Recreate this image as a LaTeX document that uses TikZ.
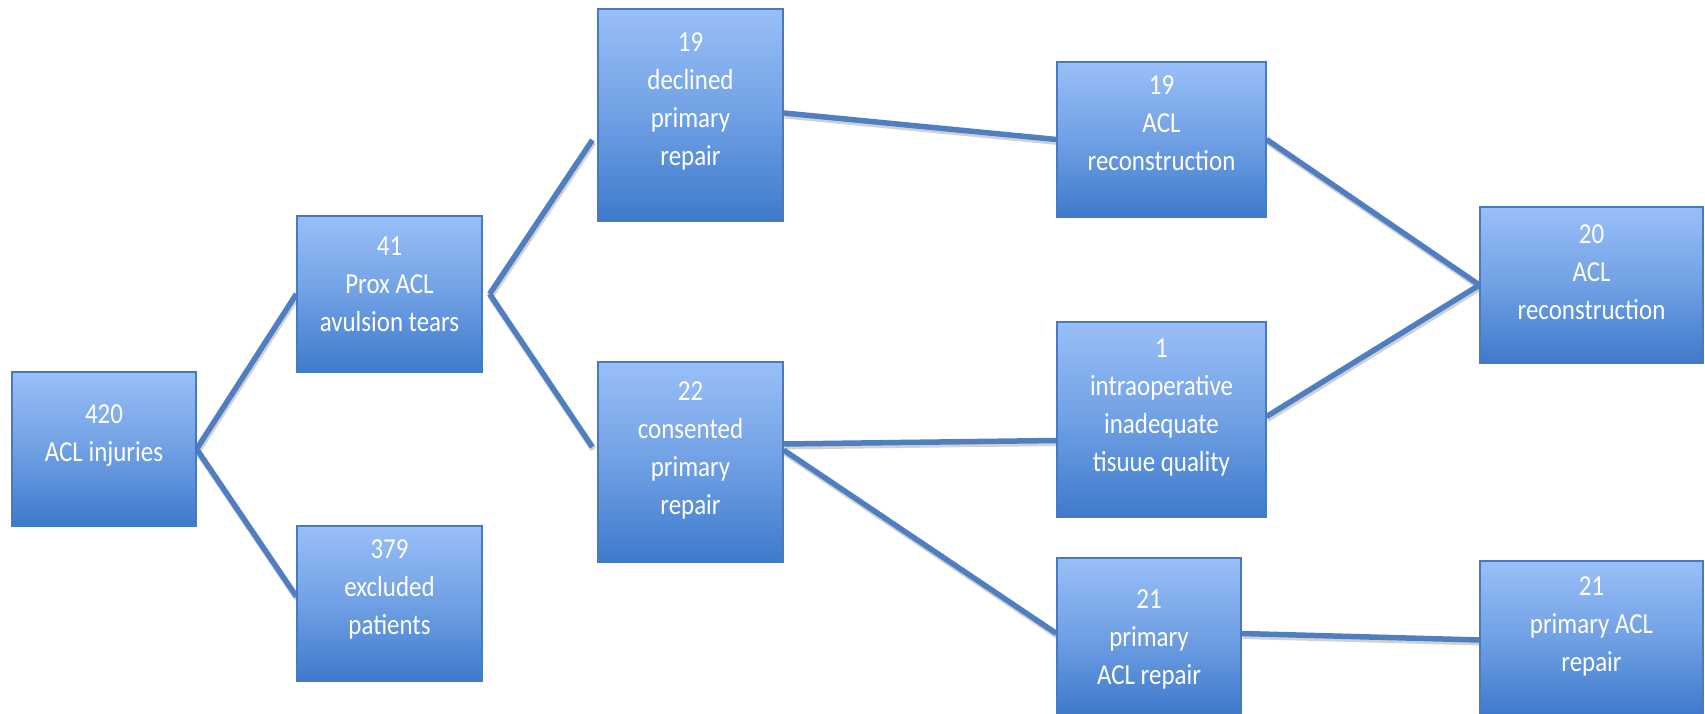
\documentclass[tikz,border=0pt]{standalone}
\usepackage{fontspec}
\setmainfont{Carlito}
\usetikzlibrary{backgrounds,calc}
\definecolor{boxlight}{RGB}{153,191,248}
\definecolor{boxmid}{RGB}{112,160,228}
\definecolor{boxdark}{RGB}{62,122,204}
\definecolor{boxedge}{RGB}{72,122,196}
\definecolor{linecol}{RGB}{79,127,192}
\begin{document}
\begin{tikzpicture}[x=1pt,y=-1pt,
  box/.style={rectangle, draw=boxedge, line width=1.2pt, inner sep=0pt,
    top color=boxlight, bottom color=boxdark, middle color=boxmid},
  lbl/.style={text=white, align=center, inner sep=0pt, xscale=0.86,
    font=\fontsize{29}{38}\selectfont},
  conn/.style={draw=linecol, line width=5.5pt},
  connshadow/.style={draw=black, opacity=0.18, line width=6pt,
    transform canvas={shift={(1pt,-2.5pt)}}}]
\useasboundingbox (0,0) rectangle (1705,714);
% boxes
\node[box, minimum width=184pt, minimum height=154pt] (b1) at (104,449) {};
\node[box, minimum width=185pt, minimum height=156pt] (b2) at (389.5,294) {};
\node[box, minimum width=185pt, minimum height=155pt] (b3) at (389.5,603.5) {};
\node[box, minimum width=185pt, minimum height=212pt] (b4) at (690.5,115) {};
\node[box, minimum width=185pt, minimum height=200pt] (b5) at (690.5,462) {};
\node[box, minimum width=209pt, minimum height=155pt] (b6) at (1161.5,139.5) {};
\node[box, minimum width=209pt, minimum height=195pt] (b7) at (1161.5,419.5) {};
\node[box, minimum width=184pt, minimum height=155pt] (b8) at (1149,635.5) {};
\node[box, minimum width=223pt, minimum height=156pt] (b9) at (1591.5,285) {};
\node[box, minimum width=223pt, minimum height=154pt] (b10) at (1591.5,638) {};
% texts
\node[lbl] (t1) at ([yshift=13pt]b1.center) {420\\ACL injuries};
\node[lbl] (t2) at ([yshift=10pt]b2.center) {41\\Prox ACL\\avulsion tears};
\node[lbl] (t3) at ([yshift=14pt]b3.center) {379\\excluded\\patients};
\node[lbl] (t4) at ([yshift=14pt]b4.center) {19\\declined\\primary\\repair};
\node[lbl] (t5) at ([yshift=12pt]b5.center) {22\\consented\\primary\\repair};
\node[lbl] (t6) at ([yshift=16pt]b6.center) {19\\ACL\\reconstruction};
\node[lbl] (t7) at ([yshift=12pt]b7.center) {1\\intraoperative\\inadequate\\tisuue quality};
\node[lbl] (t8) at ([yshift=-4pt]b8.center) {21\\primary\\ACL repair};
\node[lbl] (t9) at ([yshift=13pt]b9.center) {20\\ACL\\reconstruction};
\node[lbl] (t10) at ([yshift=12pt]b10.center) {21\\primary ACL\\repair};
% connectors
\begin{pgfonlayer}{background}
\fill[white] (0,0) rectangle (1705,714);
\foreach \s in {connshadow,conn}{
  \draw[\s] (b1.east) -- (b2.west);
  \draw[\s] (b1.east) -- ([yshift=7pt]b3.west);
  \draw[\s] ([xshift=7pt]b2.east) -- ([xshift=-5pt,yshift=-25pt]b4.west);
  \draw[\s] ([xshift=7pt]b2.east) -- ([xshift=-5pt,yshift=15pt]b5.west);
  \draw[\s] ([yshift=2pt]b4.east) -- (b6.west);
  \draw[\s] ([yshift=18pt]b5.east) -- ([yshift=-21pt]b7.west);
  \draw[\s] ([yshift=12pt]b5.east) -- ([yshift=2pt]b8.west);
  \draw[\s] (b6.east) -- (b9.west);
  \draw[\s] ([yshift=3pt]b7.east) -- (b9.west);
  \draw[\s] ([yshift=2pt]b8.east) -- ([yshift=-2pt]b10.west);
}
\end{pgfonlayer}
\end{tikzpicture}
\end{document}
